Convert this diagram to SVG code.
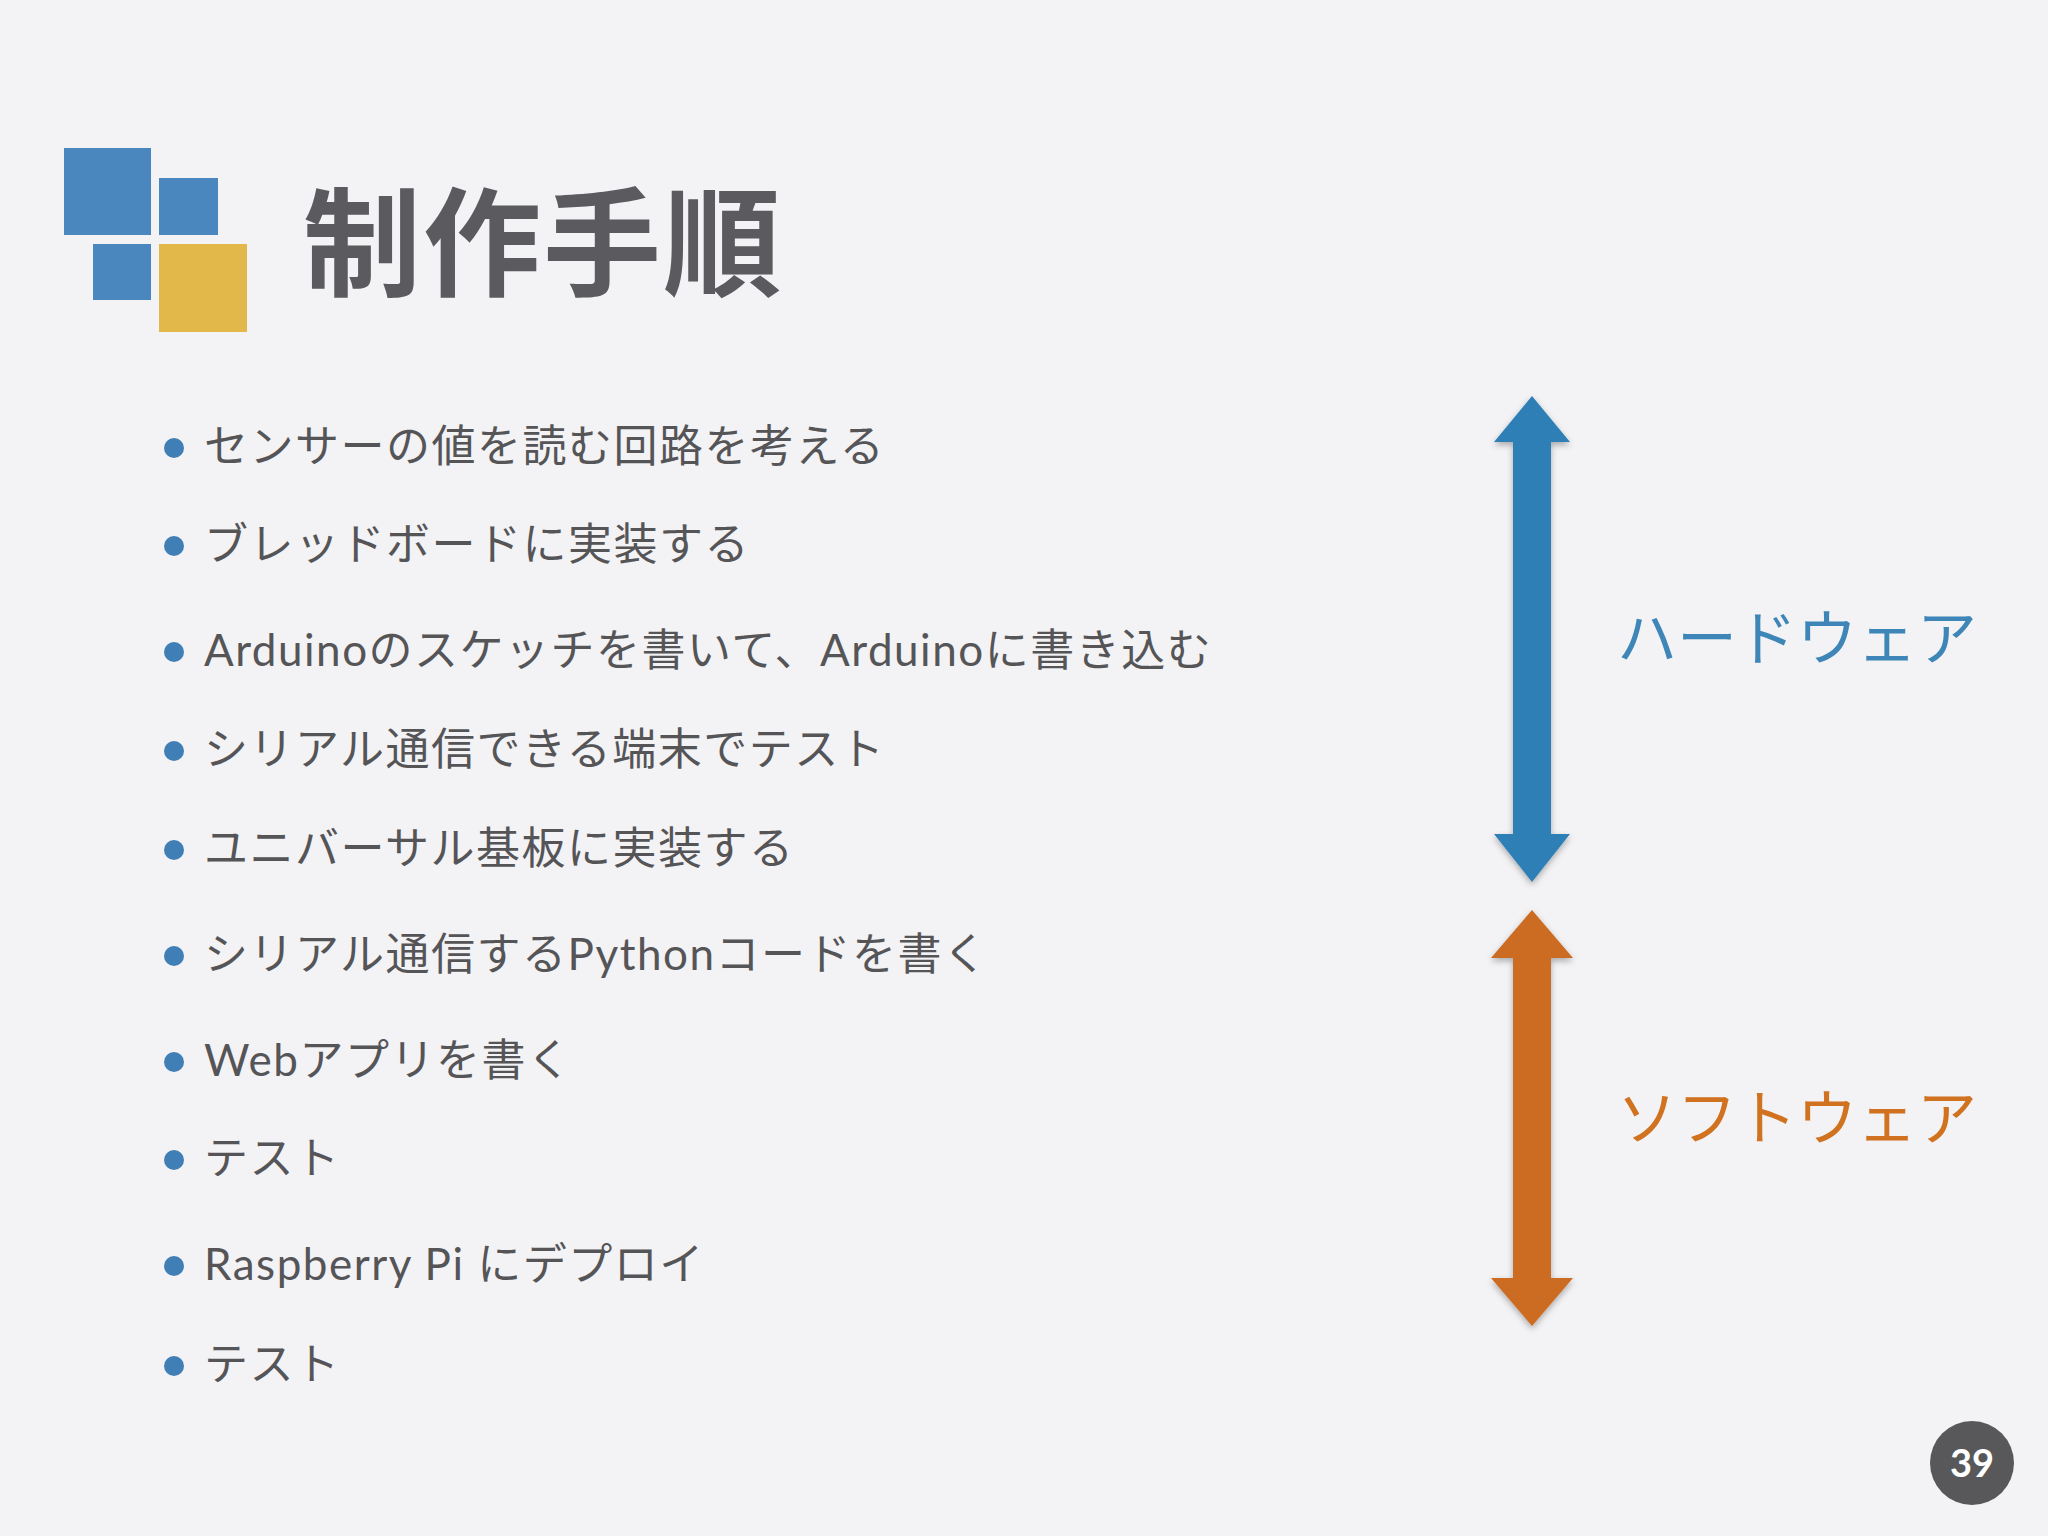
<svg xmlns="http://www.w3.org/2000/svg" width="2048" height="1536" viewBox="0 0 2048 1536">
<style>
.b{font-family:"Lato","Noto Sans CJK JP",sans-serif;font-size:44px;fill:#555558;letter-spacing:1.5px}
.d{fill:#3f7fb6}
</style>
<defs><filter id="s" x="-20%" y="-5%" width="140%" height="110%"><feDropShadow dx="0" dy="3" stdDeviation="3" flood-opacity="0.3"/></filter></defs>
<rect width="2048" height="1536" fill="#f3f2f5"/>
<g id="logo">
<rect x="64" y="148" width="87" height="87" fill="#4a87bf"/>
<rect x="159" y="178" width="59" height="57" fill="#4a87bf"/>
<rect x="93" y="244" width="58" height="56" fill="#4a87bf"/>
<rect x="159" y="244" width="88" height="88" fill="#e3b84a"/>
</g>
<text id="title" x="303" y="287" font-family="Noto Sans CJK JP,sans-serif" font-weight="bold" font-size="118" fill="#5a5a5f" letter-spacing="2">制作手順</text>
<g id="bullets">
<circle class="d" cx="174" cy="448" r="10"/><text class="b" x="204" y="462">センサーの値を読む回路を考える</text>
<circle class="d" cx="174" cy="546" r="10"/><text class="b" x="204" y="560">ブレッドボードに実装する</text>
<circle class="d" cx="174" cy="652" r="10"/><text class="b" x="204" y="666">Arduinoのスケッチを書いて、Arduinoに書き込む</text>
<circle class="d" cx="174" cy="751" r="10"/><text class="b" x="204" y="765">シリアル通信できる端末でテスト</text>
<circle class="d" cx="174" cy="850" r="10"/><text class="b" x="204" y="864">ユニバーサル基板に実装する</text>
<circle class="d" cx="174" cy="956" r="10"/><text class="b" x="204" y="970">シリアル通信するPythonコードを書く</text>
<circle class="d" cx="174" cy="1062" r="10"/><text class="b" x="204" y="1076">Webアプリを書く</text>
<circle class="d" cx="174" cy="1160" r="10"/><text class="b" x="204" y="1174">テスト</text>
<circle class="d" cx="174" cy="1266" r="10"/><text class="b" x="204" y="1280">Raspberry Pi にデプロイ</text>
<circle class="d" cx="174" cy="1366" r="10"/><text class="b" x="204" y="1380">テスト</text>
</g>
<g id="connectors">
<polygon filter="url(#s)" fill="#2f7fb5" points="1532,396 1570,442 1551,442 1551,834 1570,834 1532,882 1494,834 1513,834 1513,442 1494,442"/>
<polygon filter="url(#s)" fill="#cc6c21" points="1532,910 1573,958 1551,958 1551,1278 1573,1278 1532,1326 1491,1278 1513,1278 1513,958 1491,958"/>
</g>
<text id="hw" x="1617" y="660" font-family="Noto Sans CJK JP,sans-serif" font-size="60" fill="#3f86b8">ハードウェア</text>
<text id="sw" x="1617" y="1140" font-family="Noto Sans CJK JP,sans-serif" font-size="60" fill="#d0721f">ソフトウェア</text>
<g id="page"><circle cx="1972" cy="1463" r="42" fill="#58585a"/><text x="1972" y="1477" text-anchor="middle" font-family="Lato,sans-serif" font-weight="bold" font-size="38" fill="#fff">39</text></g>
</svg>
